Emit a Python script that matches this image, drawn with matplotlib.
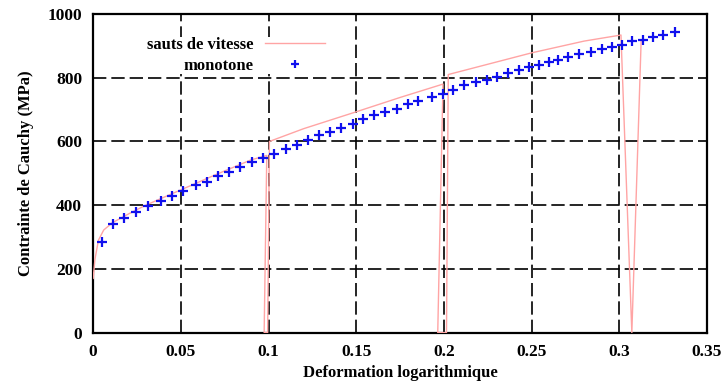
import matplotlib.pyplot as plt

# monotone test (blue crosses)
mono_strain = [0.0050, 0.0112, 0.0178, 0.0245, 0.0315, 0.0388, 0.0452, 0.0515, 0.0586,
               0.0647, 0.0712, 0.0772, 0.0839, 0.0903, 0.0967, 0.1031, 0.1100, 0.1161,
               0.1227, 0.1290, 0.1351, 0.1412, 0.1481, 0.1541, 0.1604, 0.1667, 0.1732,
               0.1793, 0.1855, 0.1930, 0.1993, 0.2053, 0.2116, 0.2181, 0.2244, 0.2304,
               0.2367, 0.2428, 0.2485, 0.2542, 0.2601, 0.2652, 0.2709, 0.2772, 0.2839,
               0.2900, 0.2957, 0.3014, 0.3075, 0.3137, 0.3194, 0.3251, 0.3318]
mono_stress = [283, 341, 360, 380, 398, 413, 430, 445, 462, 474, 490, 504, 521, 536, 548,
               561, 577, 589, 603, 619, 629, 643, 655, 671, 683, 692, 702, 717, 727, 739,
               749, 760, 776, 786, 793, 802, 814, 823, 833, 841, 849, 856, 865, 875, 882,
               890, 898, 904, 914, 919, 927, 934, 942]

# speed-jump test (pink line)
jump_strain = [0.000, 0.001, 0.003, 0.006, 0.011, 0.020, 0.030, 0.050, 0.070, 0.090,
               0.0990, 0.0975, 0.0995, 0.1005, 0.120, 0.150, 0.175, 0.1995, 0.1965,
               0.2015, 0.2025, 0.250, 0.280, 0.3010, 0.3072, 0.3125]
jump_stress = [170, 230, 290, 322, 345, 372, 400, 448, 496, 542,
               556, 0, 0, 600, 640, 693, 738, 780, 0,
               0, 810, 878, 915, 934, 0, 915]

x_ticks = [0, 0.05, 0.1, 0.15, 0.2, 0.25, 0.3, 0.35]
x_labels = ["0", "0.05", "0.1", "0.15", "0.2", "0.25", "0.3", "0.35"]
y_ticks = [0, 200, 400, 600, 800, 1000]

plt.rcParams['font.family'] = ['Liberation Serif', 'DejaVu Serif']
plt.rcParams['font.weight'] = 'bold'

fig = plt.figure(figsize=(7.28, 3.89), dpi=100)
ax = fig.add_axes([0.128, 0.145, 0.843, 0.819])

ax.plot(jump_strain, jump_stress, color='#ffa4a4', lw=1.0, label="sauts de vitesse", zorder=3)
ax.plot(mono_strain, mono_stress, linestyle='none', marker='+', color='#1010ee',
        markersize=7, markeredgewidth=1.6, label="monotone", zorder=4)

ax.set_xlim(0, 0.35)
ax.set_ylim(0, 1000)
ax.set_xticks(x_ticks)
ax.set_xticklabels(x_labels)
ax.set_yticks(y_ticks)
ax.tick_params(direction='in', length=0, labelsize=12.5, pad=8)

ax.grid(True, color='black', linestyle=(0, (8, 3)), linewidth=1.2)
ax.set_axisbelow(True)
for sp in ax.spines.values():
    sp.set_linewidth(1.6)

ax.set_xlabel("Deformation logarithmique", fontsize=12, fontweight='bold', labelpad=4)
ax.set_ylabel("Contrainte de Cauchy (MPa)", fontsize=12, fontweight='bold', labelpad=10)

leg = ax.legend(loc='upper left', bbox_to_anchor=(0.08, 0.945), frameon=True, markerfirst=False,
                fontsize=12, handlelength=3.6, handletextpad=0.7, labelspacing=0.3,
                markerscale=0.9, borderpad=0.0, borderaxespad=0.3, fancybox=False)
leg.get_frame().set_facecolor('white')
leg.get_frame().set_edgecolor('none')
leg.get_frame().set_alpha(1.0)

plt.savefig("out.png", dpi=100)
